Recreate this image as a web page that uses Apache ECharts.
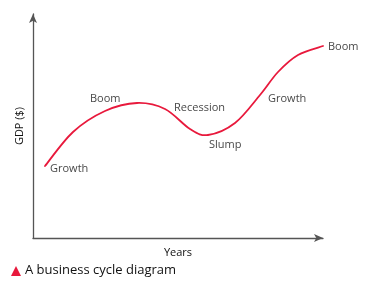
<!DOCTYPE html>
<html><head><meta charset="utf-8">
<script src="https://cdn.jsdelivr.net/npm/echarts@6/dist/echarts.min.js"></script>
<style>html,body{margin:0;padding:0;background:#fff}#c{width:365px;height:286px}</style>
</head><body><div id="c"></div>
<script>
// Curve (arbitrary units: x = time, y = GDP)
var curveX = [12,40,72,104,132,157,175,202,227,245,265,290];
var curveY = [72,106,127,135,129,109,103,115,143,166,183,192];
// Phase annotations
var phaseNames = ['Growth','Boom','Recession','Slump','Growth','Boom'];
var phaseX = [17,57,141,176,235,295];
var phaseY = [69,139,130,93,139,191];
var caption = 'A business cycle diagram';

var chart = echarts.init(document.getElementById('c'), null, {renderer:'canvas'});
var font = 'Open Sans';

function renderCurve(params, api) {
  if (params.dataIndex !== 0) return null;
  var p = curveX.map(function(x,i){ return api.coord([x, curveY[i]]); });
  var d = 'M' + p[0][0] + ' ' + p[0][1];
  for (var i = 0; i < p.length - 1; i++) {
    var p0 = p[i-1] || p[i], p1 = p[i], p2 = p[i+1], p3 = p[i+2] || p[i+1];
    var c1x = p1[0] + (p2[0]-p0[0])/6, c1y = p1[1] + (p2[1]-p0[1])/6;
    var c2x = p2[0] - (p3[0]-p1[0])/6, c2y = p2[1] - (p3[1]-p1[1])/6;
    d += ' C' + c1x + ' ' + c1y + ' ' + c2x + ' ' + c2y + ' ' + p2[0] + ' ' + p2[1];
  }
  return {type:'path', shape:{pathData:d},
    style:{stroke:'#e8193c', fill:null, lineWidth:1.8, lineCap:'round'}};
}

chart.setOption({
  animation:false,
  grid:{left:33,right:42,top:14,bottom:48},
  xAxis:{type:'value',min:0,max:290,name:'Years',nameLocation:'middle',nameGap:9,
    nameTextStyle:{color:'#111',fontSize:11,fontFamily:font},
    axisLine:{show:true,symbol:['none','arrow'],symbolSize:[6,9],lineStyle:{color:'#555',width:1.3}},
    axisTick:{show:false},axisLabel:{show:false},splitLine:{show:false}},
  yAxis:{type:'value',min:0,max:224,name:'GDP ($)',nameLocation:'middle',nameGap:8,nameRotate:90,
    nameTextStyle:{color:'#111',fontSize:11,fontFamily:font},
    axisLine:{show:true,symbol:['none','arrow'],symbolSize:[6,9],lineStyle:{color:'#555',width:1.3}},
    axisTick:{show:false},axisLabel:{show:false},splitLine:{show:false}},
  series:[
    {type:'custom',clip:false,renderItem:renderCurve,
     data:curveX.map(function(x,i){return [x,curveY[i]];})},
    {type:'scatter',symbolSize:0,clip:false,
     label:{show:true,position:'right',distance:0,color:'#111',fontSize:11,fontFamily:font,
       formatter:function(p){return p.data[2];}},
     data:phaseX.map(function(x,i){return [x,phaseY[i],phaseNames[i]];})}
  ],
  graphic:[
    {type:'polygon',shape:{points:[[11,276],[16,266],[21,276]]},style:{fill:'#e8193c'}},
    {type:'text',left:25,top:264,style:{text:caption,fill:'#111',font:'13px "Open Sans"'}}
  ]
});
</script></body></html>
